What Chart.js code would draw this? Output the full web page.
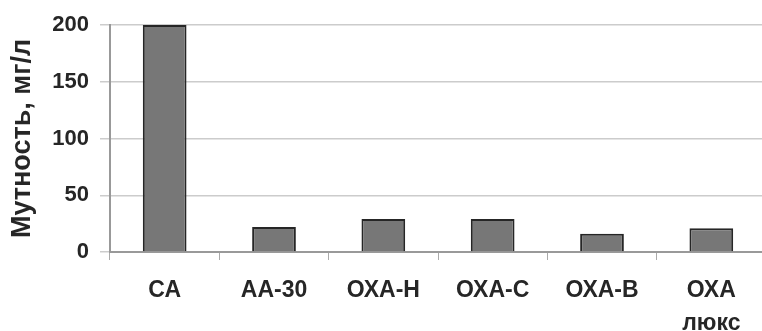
<!DOCTYPE html>
<html>
<head>
<meta charset="utf-8">
<script src="https://cdn.jsdelivr.net/npm/chart.js@4"></script>
<style>
  html, body { margin: 0; padding: 0; background: #fff; overflow: hidden; }
  #wrap { width: 766px; height: 331px; }
</style>
</head>
<body>
<div id="wrap"><canvas id="chart"></canvas></div>
<script>
// chart data
const categories = ['СА', 'АА-30', 'ОХА-Н', 'ОХА-С', 'ОХА-В', ['ОХА', 'люкс']];
const turbidity = [200, 22, 29, 29, 16, 21];
const yTicks = [0, 50, 100, 150, 200];
const yTitle = 'Мутность, мг/л';

const fontFamily = '"Liberation Sans", Arial, sans-serif';
const textColor = '#262626';

new Chart(document.getElementById('chart'), {
  type: 'bar',
  data: {
    labels: categories,
    datasets: [{
      data: turbidity,
      backgroundColor: '#777777',
      borderColor: '#262626',
      borderWidth: 2,
      barPercentage: 0.4,
      categoryPercentage: 1.0
    }]
  },
  options: {
    responsive: true,
    maintainAspectRatio: false,
    animation: false,
    layout: { padding: { top: 25, right: 0, left: 0, bottom: 0 } },
    plugins: {
      legend: { display: false },
      tooltip: { enabled: false }
    },
    scales: {
      x: {
        grid: {
          display: true,
          drawOnChartArea: false,
          drawTicks: true,
          tickLength: 8,
          color: '#aaaaaa'
        },
        border: { color: '#999999', width: 2 },
        ticks: {
          color: textColor,
          padding: 14,
          maxRotation: 0,
          autoSkip: false,
          font: { family: fontFamily, size: 23, weight: 'bold', lineHeight: 1.43 }
        },
        afterFit: function(scale) { scale.height = 79; }
      },
      y: {
        min: 0,
        max: 200,
        afterBuildTicks: function(scale) {
          scale.ticks = yTicks.map(v => ({ value: v }));
        },
        grid: {
          color: '#cccccc',
          lineWidth: 1.5,
          tickLength: 10
        },
        border: { color: '#999999', width: 2 },
        ticks: {
          color: textColor,
          padding: 11,
          font: { family: fontFamily, size: 22, weight: 'bold' }
        },
        title: {
          display: true,
          text: yTitle,
          color: textColor,
          padding: { top: 6, bottom: 0 },
          font: { family: fontFamily, size: 27, weight: 'bold' }
        },
        afterFit: function(scale) { scale.width = 110; }
      }
    }
  }
});
</script>
</body>
</html>
